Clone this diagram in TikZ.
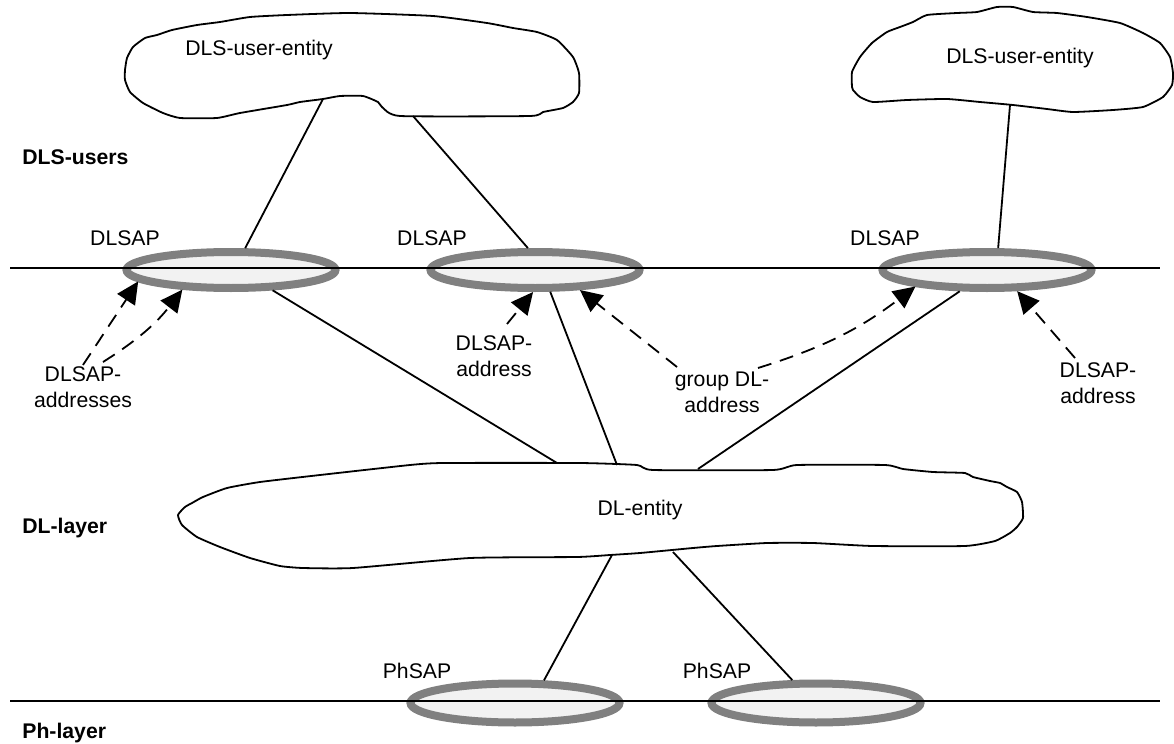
\documentclass[tikz,border=0pt]{standalone}
\usepackage{fontspec}
\setmainfont{Liberation Sans}
\usetikzlibrary{shapes.geometric,arrows.meta}

\begin{document}
\begin{tikzpicture}[x=0.5pt,y=-0.5pt,
 every node/.style={font=\fontsize{10.6}{13}\selectfont},
 sap/.style={ellipse, draw=gray, line width=4pt, fill=gray!10, minimum width=104.5pt, minimum height=18pt, inner sep=0pt},
 phsap/.style={sap, minimum height=19.5pt},
 cloud/.style={line width=0.9pt, line join=round},
 link/.style={line width=0.9pt},
 addr/.style={line width=0.9pt, dash pattern=on 7pt off 4.5pt, -{Triangle[length=11pt,width=10.5pt]}},
 txt/.style={align=center, inner sep=0pt},
 layer/.style={font=\fontsize{10.6}{13}\selectfont\bfseries, anchor=west, inner sep=0pt}]
%\draw[help lines] (0,0) grid[step=50] (1174,744);
\useasboundingbox (0,0) rectangle (1174,744);

% DLS-user-entity, left
\draw[cloud] plot[smooth cycle, tension=0.3] coordinates {(125,70) (127,58) (133,47) (145,38) (157,35) (172,30) (197,25) (220,22) (250,17) (287,15) (350,13) (433,16) (487,23) (513,28) (537,32) (557,40) (573,57) (579,73) (579,93) (573,102) (563,108) (543,112) (530,116) (400,116) (382,107) (378,102) (363,96) (340,96) (323,99) (300,102) (287,105) (240,113) (217,118) (180,118) (163,113) (143,103) (130,92) (125,80)};
\node (user1) at (259,50) {DLS-user-entity};

% DLS-user-entity, right
\draw[cloud] plot[smooth cycle, tension=0.3] coordinates {(852,87) (852,72) (860,57) (872,43) (887,32) (900,27) (913,22) (927,15) (957,13) (977,12) (997,7) (1013,7) (1033,12) (1057,13) (1087,17) (1120,23) (1143,33) (1160,43) (1170,57) (1173,73) (1172,85) (1163,97) (1143,107) (1113,110) (1073,112) (1047,109) (1013,105) (980,102) (947,99) (907,100) (873,102) (860,97) (853,90)};
\node (user2) at (1020,58) {DLS-user-entity};

% DL-entity
\draw[cloud] plot[smooth cycle, tension=0.3] coordinates {(178,515) (185,507) (192,503) (203,497) (227,488) (260,482) (320,475) (410,465) (443,463) (580,463) (637,465) (653,470) (773,470) (797,465) (885,465) (903,469) (933,472) (965,473) (973,477) (990,481) (1000,483) (1007,487) (1017,492) (1022,502) (1023,518) (1017,527) (1010,533) (995,541) (965,546) (873,546) (813,543) (767,543) (717,546) (693,548) (640,553) (610,555) (577,557) (470,558) (353,568) (303,568) (280,566) (250,558) (220,547) (197,537) (182,525)};
\node (dle) at (640,510) {DL-entity};

% service access points
\node[sap] (sap1) at (231,270) {};
\node[sap] (sap2) at (535,270) {};
\node[sap] (sap3) at (987,270) {};
\node[phsap] (ph1) at (515,703) {};
\node[phsap] (ph2) at (816,703) {};

\draw[link] (10,268) -- (1160,268);
\draw[link] (10,701) -- (1160,701);

\node (dlsap1) at (125,238) {DLSAP};
\node (dlsap2) at (432,238) {DLSAP};
\node (dlsap3) at (885,238) {DLSAP};
\node (phsap1) at (417,671) {PhSAP};
\node (phsap2) at (717,671) {PhSAP};

\node[layer] (lusers) at (22,157) {DLS-users};
\node[layer] (ldl) at (22,528) {DL-layer};
\node[layer] (lph) at (22,733) {Ph-layer};

% where the lines meet the clouds
\coordinate (u1a) at (323,99);
\coordinate (u1b) at (413,116);
\coordinate (u2a) at (1010,105);
\coordinate (e1) at (557,463);
\coordinate (e2) at (617,465);
\coordinate (e3) at (698,469);
\coordinate (e4) at (612,555);
\coordinate (e5) at (673,552);

\draw[link] (u1a) -- (sap1.57);
\draw[link] (u1b) -- (sap2.108);
\draw[link] (u2a) -- (sap3.63);
\draw[link] (sap1.-26) -- (e1);
\draw[link] (sap2.-55) -- (e2);
\draw[link] (sap3.-142) -- (e3);
\draw[link] (e4) -- (ph1.38);
\draw[link] (e5) -- (ph2.136);

% addresses
\node[txt] (addrs1) at (83,387) {DLSAP-\\addresses};
\node[txt] (addr2) at (494,356) {DLSAP-\\address};
\node[txt] (group) at (722,392) {group DL-\\address};
\node[txt] (addr3) at (1098,383) {DLSAP-\\address};

\coordinate (t1) at (83,365);
\coordinate (t2) at (103,362);
\coordinate (t3) at (507,324);
\coordinate (t4) at (677,367);
\coordinate (t5) at (758,368);
\coordinate (t6) at (1075,358);

\draw[addr] (t1) -- (sap1.-173);
\draw[addr] (t2) to[bend right=10] (sap1.-158);
\draw[addr] (t3) -- (sap2.-95);
\draw[addr] (t4) -- (sap2.-24);
\draw[addr] (t5) to[bend right=10] (sap3.-167);
\draw[addr] (t6) -- (sap3.-35);

\end{tikzpicture}
\end{document}
